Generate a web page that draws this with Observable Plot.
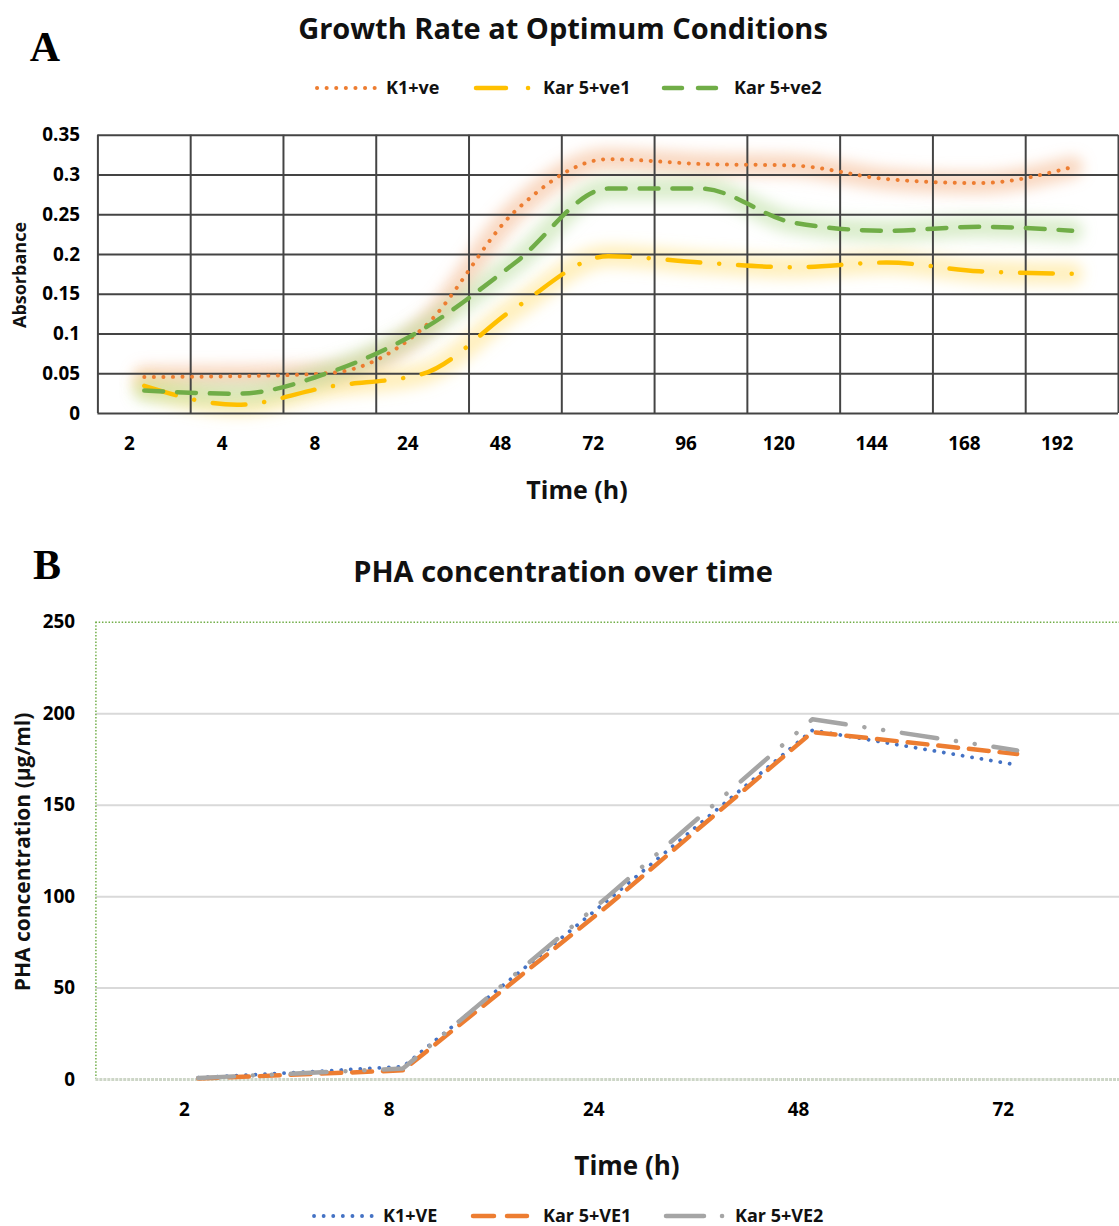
<!DOCTYPE html>
<html><head><meta charset="utf-8">
<script src="https://cdn.jsdelivr.net/npm/d3@7"></script>
<script src="https://cdn.jsdelivr.net/npm/@observablehq/plot@0.6"></script>
<style>
html,body{margin:0;padding:0;background:#fff;overflow:hidden;}
#page{position:relative;width:1119px;height:1226px;overflow:hidden;font-family:"Open Sans",sans-serif;color:#111;}
.abs{position:absolute;white-space:nowrap;line-height:1;}
.c{transform:translate(-50%,-50%);}
.title{font-weight:700;font-size:29px;}
.panel{font-family:"Liberation Serif","Times New Roman",serif;font-weight:700;font-size:42px;color:#000;}
.axt{font-weight:700;}
.leg{font-weight:700;font-size:18px;transform:translateY(-50%);}
.rot{transform:translate(-50%,-50%) rotate(-90deg);}
</style></head><body><div id="page"></div>
<script>
// ---------- data: panel A ----------
const hoursA = ["2","4","8","24","48","72","96","120","144","168","192"];
const k1ve    = [0.046,0.047,0.051,0.107,0.255,0.320,0.314,0.312,0.295,0.290,0.310];
const kar5ve1 = [0.035,0.011,0.034,0.050,0.133,0.198,0.190,0.184,0.190,0.179,0.176];
const kar5ve2 = [0.029,0.025,0.052,0.106,0.190,0.283,0.283,0.240,0.230,0.235,0.230];
const absTicks = [0,0.05,0.1,0.15,0.2,0.25,0.3,0.35];
const namesA = ["K1+ve","Kar 5+ve1","Kar 5+ve2"];

// ---------- data: panel B ----------
const hoursB = ["2","8","24","48","72"];
const k1VE    = [1,7,98,191,172];
const kar5VE1 = [0.5,5,95,190,178];
const kar5VE2 = [0.8,6,100,197,180];
const phaTicks = [0,50,100,150,200,250];
const namesB = ["K1+VE","Kar 5+VE1","Kar 5+VE2"];

const page = document.getElementById("page");
function addText(cls, txt, x, y, style) {
  const d = document.createElement("div");
  d.className = "abs " + cls;
  d.textContent = txt;
  d.style.left = x + "px"; d.style.top = y + "px";
  Object.assign(d.style, style || {});
  page.appendChild(d);
  return d;
}
function addSwatch(x0, x1, y, color, dash, w) {
  const s = d3.create("svg").attr("width", x1 - x0 + 10).attr("height", 14)
    .style("position","absolute").style("left",(x0-5)+"px").style("top",(y-7)+"px");
  s.append("line").attr("x1",5).attr("x2",x1-x0+5).attr("y1",7).attr("y2",7)
    .attr("stroke",color).attr("stroke-width",w).attr("stroke-dasharray",dash)
    .attr("stroke-linecap","round");
  page.appendChild(s.node());
}

const font = "'Open Sans', sans-serif";

// ---------- Panel A ----------
const stylesA = [
  {vals:k1ve,    color:"#ED7D31", glow:"#F4B183", dash:"0.1 9.5",        w:4},
  {vals:kar5ve1, color:"#FFC000", glow:"#FFE07A", dash:"33 19 0.1 19",   w:4.5},
  {vals:kar5ve2, color:"#70AD47", glow:"#B5DC98", dash:"19 14",          w:4.5}
];
const rowsA = stylesA.map((s,k) => s.vals.map((v,i) => ({series: namesA[k], i, v})));
const boundsA = d3.range(hoursA.length + 1).map(i => i - 0.5);

const plotA = Plot.plot({
  width: 1126, height: 400,
  marginLeft: 98, marginRight: 1, marginTop: 25, marginBottom: 95,
  x: {type: "linear", domain: [-0.5, hoursA.length - 0.5], label: null},
  y: {domain: [0, 0.35], label: null},
  style: {fontFamily: font, color: "#000", background: "transparent", overflow: "visible"},
  marks: [
    ...stylesA.map((s,k) => Plot.line(rowsA[k], {x:"i", y:"v", stroke:s.glow, strokeWidth:22, strokeOpacity:0.5, curve:"monotone-x"})),
    Plot.gridY(absTicks, {stroke:"#444", strokeOpacity:1, strokeWidth:2}),
    Plot.ruleX(boundsA, {stroke:"#444", strokeOpacity:1, strokeWidth:2}),
    Plot.axisY(absTicks, {tickSize:0, tickPadding:18, fontSize:19, fontWeight:700, label:null,
      tickFormat: d => String(+d.toFixed(2))}),
    Plot.axisX(d3.range(hoursA.length), {tickSize:0, tickPadding:23, fontSize:19, fontWeight:700, label:null,
      dx:-15, tickFormat: i => hoursA[i]}),
    ...stylesA.map((s,k) => Plot.line(rowsA[k], {x:"i", y:"v", stroke:s.color, strokeWidth:s.w,
      strokeDasharray:s.dash, strokeLinecap:"round", curve:"monotone-x"}))
  ]
});
plotA.style.position = "absolute"; plotA.style.left = "0px"; plotA.style.top = "110px";
page.appendChild(plotA);
{
  const svg = d3.select(plotA);
  const defs = svg.insert("defs", ":first-child");
  defs.append("filter").attr("id","glowA").attr("filterUnits","userSpaceOnUse")
    .attr("x",0).attr("y",0).attr("width",1126).attr("height",400)
    .append("feGaussianBlur").attr("stdDeviation",7);
  const lines = plotA.querySelectorAll('g[aria-label="line"]');
  for (let k = 0; k < 3; k++) lines[k].setAttribute("filter","url(#glowA)");
}

addText("panel c", "A", 45, 47);
addText("title c", "Growth Rate at Optimum Conditions", 563, 27);
addText("axt rot", "Absorbance", 19, 275, {fontSize:"18px"});
addText("axt c", "Time (h)", 577, 489, {fontSize:"25px"});

// legend A
addSwatch(317, 378, 88, "#ED7D31", "0.1 9.5", 4);
addText("leg", namesA[0], 386, 87);
addSwatch(476, 530, 88, "#FFC000", "30 22 0.1 40", 4.5);
addText("leg", namesA[1], 543, 87);
addSwatch(664, 716, 88, "#70AD47", "18 16", 4.5);
addText("leg", namesA[2], 734, 87);

// ---------- Panel B ----------
const stylesB = [
  {vals:k1VE,    color:"#4472C4", dash:"0.1 9.5",                 w:3.8},
  {vals:kar5VE1, color:"#ED7D31", dash:"20 11",                   w:4.5},
  {vals:kar5VE2, color:"#A5A5A5", dash:"36 19 0.1 19 0.1 19",     w:4.5}
];
const rowsB = stylesB.map((s,k) => s.vals.map((v,i) => ({series: namesB[k], i, v})));

const plotB = Plot.plot({
  width: 1126, height: 540,
  marginLeft: 96, marginRight: 0, marginTop: 22, marginBottom: 58,
  x: {type: "linear", domain: [-0.5, hoursB.length - 0.5], label: null},
  y: {domain: [0, 250], label: null},
  style: {fontFamily: font, color: "#000", background: "transparent", overflow: "visible"},
  marks: [
    Plot.gridY(phaTicks.filter(t => t > 0 && t < 250), {stroke:"#D9D9D9", strokeOpacity:1, strokeWidth:2}),
    Plot.ruleY([250], {stroke:"#70AD47", strokeWidth:1.5, strokeDasharray:"1.5 1.8"}),
    Plot.ruleX([-0.5], {stroke:"#70AD47", strokeWidth:1.5, strokeDasharray:"1.5 1.8"}),
    Plot.ruleY([0], {stroke:"#CDD6C7", strokeWidth:3, strokeDasharray:"3 1"}),
    Plot.axisY(phaTicks, {tickSize:0, tickPadding:21, fontSize:19, fontWeight:700, label:null}),
    Plot.axisX(d3.range(hoursB.length), {tickSize:0, tickPadding:23, fontSize:19, fontWeight:700, label:null,
      dx:-14, tickFormat: i => hoursB[i]}),
    ...stylesB.map((s,k) => Plot.line(rowsB[k], {x:"i", y:"v", stroke:s.color, strokeWidth:s.w,
      strokeDasharray:s.dash, strokeLinecap:"round"}))
  ]
});
plotB.style.position = "absolute"; plotB.style.left = "0px"; plotB.style.top = "600px";
page.appendChild(plotB);

addText("panel c", "B", 47, 565);
addText("title c", "PHA concentration over time", 563, 570);
addText("axt rot", "PHA concentration (µg/ml)", 22, 852, {fontSize:"21px"});
addText("axt c", "Time (h)", 627, 1165, {fontSize:"26px"});

// legend B
addSwatch(314, 375, 1216, "#4472C4", "0.1 9.5", 3.8);
addText("leg", namesB[0], 383, 1215);
addSwatch(473, 527, 1216, "#ED7D31", "21 13", 4.5);
addText("leg", namesB[1], 543, 1215);
addSwatch(666, 724, 1216, "#A5A5A5", "38 18 0.1 30", 4.5);
addText("leg", namesB[2], 735, 1215);
</script></body></html>
